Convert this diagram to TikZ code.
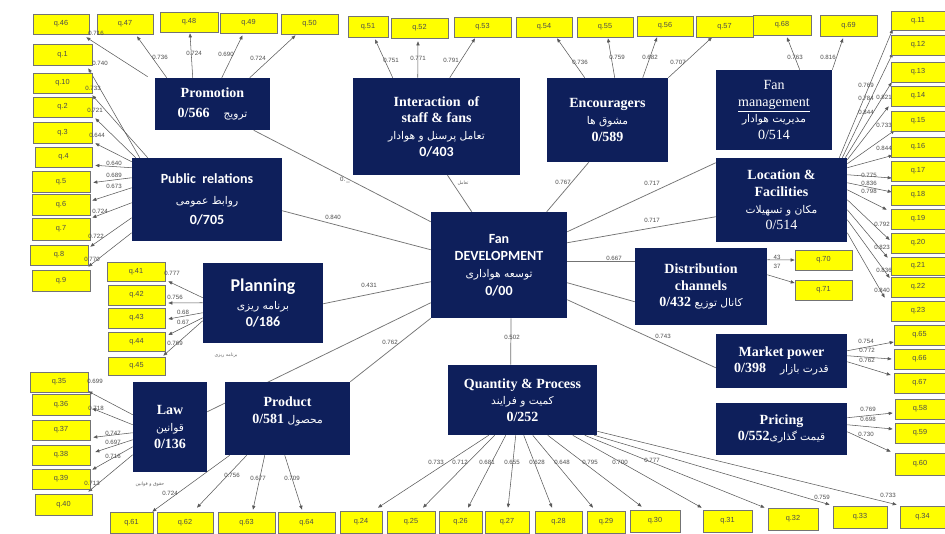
\documentclass[tikz,border=0pt]{standalone}
\usepackage{fontspec}
\setmainfont{Liberation Serif}
\setsansfont{Carlito}
\newfontfamily\fa[Script=Arabic]{DejaVu Sans}
\newfontfamily\qfont{Liberation Sans}
\TeXXeTstate=1
\usetikzlibrary{arrows.meta,calc,backgrounds}
\definecolor{navy}{HTML}{0E1F5B}
\definecolor{qyel}{HTML}{FFFF00}
\newcommand\fatext[1]{{\fa\mdseries\fontsize{8}{10}\selectfont\beginR #1\endR}}
\newcount\lbn
\newcommand\qbox[5]{\node[qb, minimum width={(#4-#2)*0.75pt}, minimum height={(#5-#3)*0.75pt}] (q#1) at ({(#2+#4)/2},{(#3+#5)/2}) {q.#1};}
\newcommand\cbox[7][]{\node[cons,#1, minimum width={(#5-#3)*0.75pt}, minimum height={(#6-#4)*0.75pt}] (#2) at ({(#3+#5)/2},{(#4+#6)/2}) {#7};}
\newcommand\ind[4]{\draw[ind] (#1) ++(#2) -- ($(#3)+(#4)$);}
\newcommand\lb[3]{\global\advance\lbn by 1 \node[lbl] (lab\the\lbn) at (#1,#2) {#3};}
\begin{document}
\begin{tikzpicture}[x=0.75pt,y=-0.75pt,
  cons/.style={fill=navy, text=white, inner sep=1pt, align=center, font=\bfseries\fontsize{10.5}{12.5}\selectfont},
  sanscons/.style={font=\sffamily\bfseries\fontsize{10.5}{13}\selectfont},
  qb/.style={fill=qyel, draw=black!55, line width=0.5pt, inner sep=0pt, font=\qfont\fontsize{5.5}{6}\selectfont, text=black!70},
  lbl/.style={font=\qfont\fontsize{4.6}{5}\selectfont, text=black!70, inner sep=0.5pt},
  tiny/.style={font=\fa\fontsize{3.5}{4}\selectfont, text=black!60, inner sep=0pt},
  ind/.style={draw=black!65, line width=0.4pt, -{Triangle[length=3pt,width=2.4pt]}},
  lnk/.style={draw=black!55, line width=0.55pt}]
\useasboundingbox (0,0) rectangle (945,533);

% ---------- indicator boxes ----------
\qbox{46}{33}{14}{89}{34}
\qbox{47}{97}{14}{153}{34}
\qbox{48}{160}{12}{218}{32}
\qbox{49}{220}{13}{277}{33}
\qbox{50}{281}{14}{338}{34}
\qbox{51}{348}{16}{388}{37}
\qbox{52}{391}{18}{448}{38}
\qbox{53}{454}{17}{511}{37}
\qbox{54}{516}{17}{572}{37}
\qbox{55}{577}{17}{633}{37}
\qbox{56}{637}{16}{693}{36}
\qbox{57}{696}{16}{753}{37}
\qbox{68}{753}{15}{811}{35}
\qbox{69}{820}{15}{877}{36}
\qbox{11}{891}{11}{945}{30}
\qbox{12}{891}{35}{945}{55}
\qbox{13}{891}{62}{945}{82}
\qbox{14}{891}{86}{945}{106}
\qbox{15}{891}{111}{945}{131}
\qbox{16}{891}{137}{945}{157}
\qbox{17}{891}{161}{945}{181}
\qbox{18}{891}{185}{945}{205}
\qbox{19}{891}{209}{945}{229}
\qbox{20}{891}{233}{945}{253}
\qbox{21}{891}{257}{945}{275}
\qbox{22}{891}{277}{945}{297}
\qbox{23}{891}{301}{945}{321}
\qbox{65}{894}{325}{945}{345}
\qbox{66}{894}{349}{945}{369}
\qbox{67}{894}{373}{945}{393}
\qbox{58}{895}{399}{945}{419}
\qbox{59}{895}{423}{945}{443}
\qbox{60}{895}{453}{945}{475}
\qbox{70}{795}{250}{852}{270}
\qbox{71}{795}{280}{852}{300}
\qbox{61}{110}{512}{153}{533}
\qbox{62}{157}{512}{213}{533}
\qbox{63}{218}{512}{275}{533}
\qbox{64}{278}{512}{335}{533}
\qbox{24}{340}{511}{382}{533}
\qbox{25}{387}{511}{435}{533}
\qbox{26}{439}{511}{482}{533}
\qbox{27}{485}{511}{529}{533}
\qbox{28}{535}{511}{582}{533}
\qbox{29}{587}{511}{625}{533}
\qbox{30}{630}{510}{680}{532}
\qbox{31}{703}{510}{752}{532}
\qbox{32}{768}{508}{818}{530}
\qbox{33}{833}{506}{887}{528}
\qbox{34}{900}{506}{945}{528}
\qbox{1}{33}{44}{92}{65}
\qbox{10}{33}{73}{92}{93}
\qbox{2}{33}{97}{92}{117}
\qbox{3}{33}{122}{92}{143}
\qbox{4}{35}{147}{92}{167}
\qbox{5}{32}{171}{90}{192}
\qbox{6}{32}{194}{90}{215}
\qbox{7}{32}{218}{90}{240}
\qbox{8}{30}{245}{88}{265}
\qbox{9}{32}{270}{90}{291}
\qbox{41}{107}{262}{165}{281}
\qbox{42}{108}{285}{165}{305}
\qbox{43}{108}{308}{165}{328}
\qbox{44}{108}{332}{165}{351}
\qbox{45}{108}{357}{165}{375}
\qbox{35}{30}{372}{88}{392}
\qbox{36}{32}{394}{90}{415}
\qbox{37}{32}{420}{90}{440}
\qbox{38}{32}{445}{90}{465}
\qbox{39}{32}{469}{90}{489}
\qbox{40}{35}{494}{92}{515}

% ---------- construct boxes ----------
\cbox{prom}{155}{78}{270}{130}{Promotion\\[3pt]0/566\quad\fatext{ترویج}}
\cbox{inter}{353}{78}{520}{175}{Interaction\ \ of\\staff \& fans\\\fatext{تعامل پرسنل و هوادار}\\{\sffamily 0/403}}
\cbox{enc}{547}{78}{668}{162}{Encouragers\\\fatext{مشوق ها}\\0/589}
\cbox{fanm}{716}{70}{832}{150}{{\mdseries Fan}\\{\mdseries\underline{management}}\\\fatext{مدیریت هوادار}\\{\mdseries 0/514}}
\cbox{loc}{716}{158}{847}{242}{Location \&\\Facilities\\\fatext{مکان و تسهیلات}\\{\mdseries 0/514}}
\cbox[sanscons]{pr}{132}{158}{282}{241}{Public\ \ relations\\[3pt]\fatext{روابط عمومی}\\[2pt]0/705}
\cbox[sanscons]{dev}{431}{212}{567}{318}{Fan\\DEVELOPMENT\\\fatext{توسعه هواداری}\\0/00}
\cbox[sanscons]{plan}{203}{263}{323}{343}{{\fontsize{13.5}{15}\selectfont Planning}\\\fatext{برنامه ریزی}\\0/186}
\cbox{dist}{635}{248}{767}{325}{Distribution\\channels\\0/432 \fatext{کانال توزیع}}
\cbox{mkt}{716}{334}{847}{388}{Market power\\0/398\quad\fatext{قدرت بازار}}
\cbox{law}{133}{382}{207}{472}{Law\\\fatext{قوانین}\\0/136}
\cbox{prod}{225}{382}{350}{455}{Product\\0/581\ \fatext{محصول}\\\mbox{}}
\cbox{qp}{448}{365}{597}{435}{Quantity \& Process\\\fatext{کمیت و فرایند}\\0/252}
\cbox{pric}{716}{403}{847}{455}{Pricing\\0/552\fatext{قیمت گذاری}}

% small captions
\node[tiny] (capplan) at (226,355) {\beginR برنامه ریزی\endR};
\node[tiny] (caplaw) at (150,484) {\beginR حقوق و قوانین\endR};
\node[tiny] (capint) at (463,183) {\beginR تعامل\endR};

\begin{scope}[on background layer]
\fill[white] (0,0) rectangle (945,533);
% ---------- structural links ----------
\draw[lnk] ($(dev.north west)+(0,10)$) -- ($(prom.south west)+(99,0)$);
\draw[lnk] ($(dev.north west)+(0,38)$) -- ($(pr.north east)+(0,53)$);
\draw[lnk] ($(dev.north west)+(0,70)$) -- ($(plan.north east)+(0,41)$);
\draw[lnk] ($(dev.north west)+(0,91)$) -- ($(law.north east)+(0,30)$);
\draw[lnk] (dev.south west) -- (prod.north east);
\draw[lnk] ($(dev.north west)+(41,0)$) -- ($(inter.south)+(11,0)$);
\draw[lnk] ($(dev.north west)+(116,0)$) -- ($(enc.south west)+(42,0)$);
\draw[lnk] ($(dev.north east)+(0,20)$) -- ($(loc.north west)+(0,5)$);
\draw[lnk] ($(dev.north east)+(0,31)$) -- ($(loc.north west)+(0,59)$);
\draw[lnk] ($(dev.north east)+(0,50)$) -- ($(dist.north west)+(0,14)$);
\draw[lnk] ($(dev.north east)+(0,71)$) -- ($(dist.north west)+(0,54)$);
\draw[lnk] ($(dev.north east)+(0,88)$) -- ($(mkt.north west)+(0,34)$);
\draw[lnk] ($(dev.south)+(12,0)$) -- ($(qp.north west)+(63,0)$);

% ---------- indicator arrows ----------
% Promotion
\ind{prom.north west}{-7,-1}{q46.south east}{-3,3}
\ind{prom.north west}{12,0}{q47.south}{12,2}
\ind{prom.north west}{38,0}{q48.south}{1,1}
\ind{prom.north west}{67,0}{q49.south}{-6,2}
\ind{prom.north west}{95,0}{q50.south}{-14,1}
% Public relations
\ind{pr.north west}{8,0}{q1.south east}{-4,3}
\ind{pr.north west}{16,0}{q10.south east}{0,2}
\ind{pr.north west}{4,0}{q2.south east}{3,1}
\ind{pr.north west}{0,4}{q3.south east}{3,0}
\ind{pr.north west}{0,10}{q4.south east}{3,-2}
\ind{pr.north west}{0,20}{q5.east}{3,1}
\ind{pr.north west}{0,30}{q6.east}{2,-4}
\ind{pr.north west}{0,45}{q7.north east}{2,0}
\ind{pr.north west}{0,60}{q8.north east}{2,2}
\ind{pr.north west}{0,75}{q9.north east}{-2,-3}
% Planning
\ind{plan.north west}{0,35}{q41.south east}{3,0}
\ind{plan.north west}{0,40}{q42.east}{3,8}
\ind{plan.north west}{0,50}{q43.east}{3,1}
\ind{plan.north west}{0,55}{q44.east}{3,-6.5}
\ind{plan.north west}{0,58}{q45.north east}{-2,-1}
% Law
\ind{law.north west}{0,33}{q35.south east}{0,-1}
\ind{law.north west}{0,43}{q36.east}{2,4}
\ind{law.north west}{0,51}{q37.south east}{3,-3}
\ind{law.north west}{0,58}{q38.east}{5,-3}
\ind{law.north west}{0,65}{q39.north east}{2,1}
\ind{law.north west}{0,73}{q40.north east}{-4,-2}
% Product
\ind{prod.south west}{5,0}{q61.north east}{-1,0}
\ind{prod.south west}{22,0}{q62.north}{12,-4}
\ind{prod.south west}{40,0}{q63.north}{6.5,-2}
\ind{prod.south west}{60,0}{q64.north}{-4.5,-2}
% Quantity & Process
\ind{qp.south west}{41,0}{q24.north}{17,-3}
\ind{qp.south west}{47,0}{q25.north}{12,-3}
\ind{qp.south west}{58,0}{q26.north}{7.5,-3}
\ind{qp.south west}{68,0}{q27.north}{1,-3}
\ind{qp.south west}{76,0}{q28.north}{-6.5,-3}
\ind{qp.south west}{85,0}{q29.north}{-13,-3}
\ind{qp.south west}{100,0}{q30.north west}{12,-3}
\ind{qp.south west}{125,0}{q31.north west}{-1,-2}
\ind{qp.south west}{137,0}{q32.north west}{-3,0}
\ind{qp.south east}{-3,0}{q33.north west}{-3,-1}
\ind{qp.south east}{0,-4}{q34.north west}{-3,-1}
% Interaction
\ind{inter.north west}{40,0}{q51.south}{7,2}
\ind{inter.north west}{65,0}{q52.south}{-1.5,3}
\ind{inter.north west}{97,0}{q53.south}{-7.5,1}
% Encouragers
\ind{enc.north west}{38,0}{q54.south}{13,1}
\ind{enc.north west}{68,0}{q55.south}{3,1}
\ind{enc.north west}{96,0}{q56.south}{-8,1}
\ind{enc.north east}{0,0}{q57.south}{-12.5,0}
% Fan management
\ind{fanm.north west}{84,0}{q68.south}{5,2}
\ind{fanm.north east}{0,0}{q69.south}{-5.5,2}
% Location & Facilities
\ind{loc.north east}{-8,0}{q11.south west}{2,-1}
\ind{loc.north east}{-5,0}{q12.south west}{2,-2}
\ind{loc.north east}{-2,0}{q13.south west}{1,0}
\ind{loc.north east}{0,2}{q14.south west}{-2,0}
\ind{loc.north east}{0,6}{q15.south west}{4,-1}
\ind{loc.north east}{0,10}{q16.south west}{2,-2}
\ind{loc.north east}{0,17}{q17.west}{1,7}
\ind{loc.north east}{0,25}{q18.west}{1,-3}
\ind{loc.north east}{0,32}{q19.north west}{-4,1}
\ind{loc.north east}{0,42}{q20.west}{-1,-3}
\ind{loc.north east}{0,52}{q21.north west}{-3,1}
\ind{loc.north east}{0,62}{q22.west}{-1,-9}
\ind{loc.north east}{0,75}{q23.north west}{-6,-3}
% Distribution
\ind{dist.north east}{0,12}{q70.west}{0,0}
\ind{dist.north east}{0,27}{q71.west}{0,-7}
% Market power
\ind{mkt.north east}{0,17}{q65.west}{0,7}
\ind{mkt.north east}{0,22}{q66.west}{-2,0}
\ind{mkt.north east}{0,28}{q67.west}{-3,-8}
% Pricing
\ind{pric.north east}{0,15}{q58.west}{-2,4}
\ind{pric.north east}{0,22}{q59.west}{-2,-4}
\ind{pric.north east}{0,29}{q60.north west}{-4,-1}
\end{scope}

% ---------- loading labels ----------
\lb{96}{33}{0.716}\lb{160}{57}{0.736}\lb{194}{53}{0.724}\lb{226}{54}{0.690}\lb{258}{58}{0.724}
\lb{100}{63}{0.740}\lb{93}{88}{0.733}\lb{95}{110}{0.721}\lb{97}{135}{0.644}
\lb{114}{163}{0.640}\lb{114}{175}{0.689}\lb{114}{186}{0.673}\lb{100}{211}{0.724}\lb{96}{236}{0.722}\lb{92}{259}{0.770}
\lb{172}{273}{0.777}\lb{175}{297}{0.756}\lb{183}{312}{0.68}\lb{183}{322}{0.67}\lb{175}{343}{0.769}
\lb{95}{381}{0.699}\lb{96}{408}{0.718}\lb{113}{433}{0.747}\lb{113}{442}{0.697}\lb{113}{456}{0.716}\lb{92}{483}{0.713}
\lb{170}{493}{0.724}\lb{232}{475}{0.756}\lb{258}{478}{0.677}\lb{292}{478}{0.709}
\lb{436}{462}{0.733}\lb{460}{462}{0.712}\lb{487}{462}{0.681}\lb{512}{462}{0.655}\lb{537}{462}{0.628}\lb{562}{462}{0.648}\lb{590}{462}{0.795}\lb{620}{462}{0.700}\lb{652}{460}{0.777}
\lb{822}{497}{0.759}\lb{888}{495}{0.733}
\lb{391}{60}{0.751}\lb{418}{58}{0.771}\lb{451}{60}{0.791}
\lb{580}{62}{0.736}\lb{617}{57}{0.759}\lb{650}{57}{0.682}\lb{678}{62}{0.707}
\lb{795}{57}{0.763}\lb{828}{57}{0.816}
\lb{866}{85}{0.769}\lb{866}{98}{0.784}\lb{884}{97}{0.821}\lb{866}{112}{0.844}\lb{884}{125}{0.733}
\lb{884}{148}{0.844}\lb{869}{175}{0.775}\lb{869}{183}{0.836}\lb{869}{191}{0.798}\lb{882}{224}{0.792}\lb{882}{247}{0.823}\lb{884}{270}{0.836}\lb{882}{290}{0.840}
\lb{777}{257}{43}\lb{777}{266}{37}
\lb{866}{341}{0.754}\lb{867}{350}{0.772}\lb{867}{360}{0.762}
\lb{868}{409}{0.769}\lb{868}{419}{0.698}\lb{866}{434}{0.730}
% structural labels
\lb{345}{180}{0.\,\_}\lb{333}{217}{0.840}\lb{369}{285}{0.431}\lb{390}{342}{0.762}\lb{563}{182}{0.767}
\lb{652}{183}{0.717}\lb{652}{220}{0.717}\lb{614}{258}{0.667}\lb{663}{336}{0.743}\lb{512}{337}{0.502}
\end{tikzpicture}
\end{document}
